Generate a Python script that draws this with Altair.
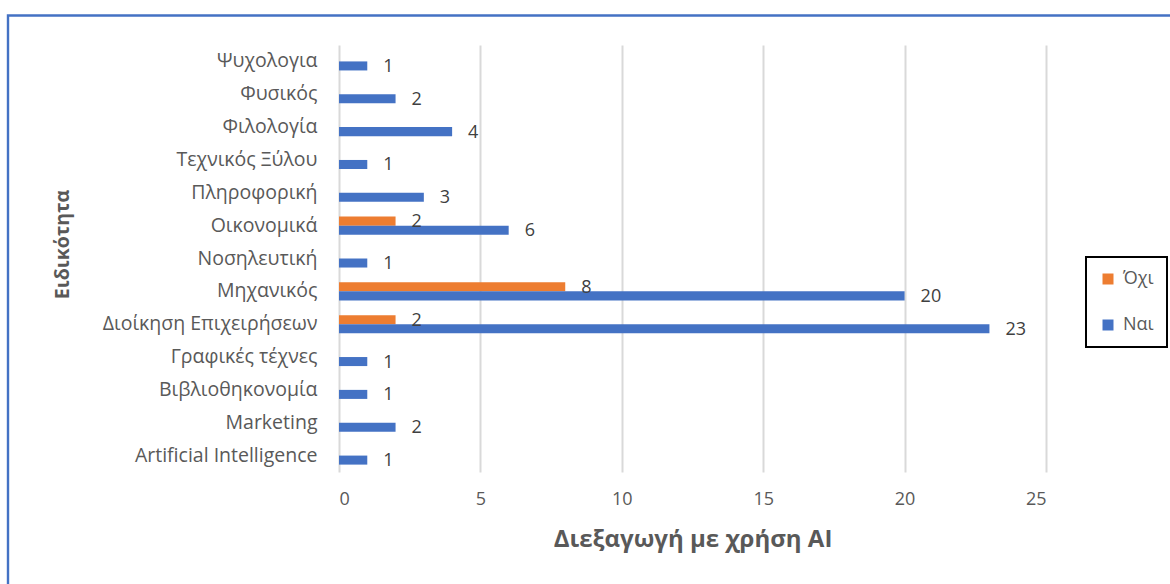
import altair as alt
import pandas as pd

# Specialities, listed top to bottom
categories = [
    "Ψυχολογια", "Φυσικός", "Φιλολογία", "Τεχνικός Ξύλου", "Πληροφορική",
    "Οικονομικά", "Νοσηλευτική", "Μηχανικός", "Διοίκηση Επιχειρήσεων",
    "Γραφικές τέχνες", "Βιβλιοθηκονομία", "Marketing", "Artificial Intelligence",
]
nai = [1, 2, 4, 1, 3, 6, 1, 20, 23, 1, 1, 2, 1]
ochi = [0, 0, 0, 0, 0, 2, 0, 8, 2, 0, 0, 0, 0]
series = ["Όχι", "Ναι"]
colors = ["#ED7D31", "#4472C4"]
x_ticks = [0, 5, 10, 15, 20, 25]

rows = []
for cat, n, o in zip(categories, nai, ochi):
    if o:
        rows.append({"cat": cat, "series": "Όχι", "value": o})
    if n:
        rows.append({"cat": cat, "series": "Ναι", "value": n})
df = pd.DataFrame(rows)

W, H = 707, 427
FONT = "Open Sans"
GREY = "#595959"

y_enc = alt.Y(
    "cat:N",
    sort=categories,
    scale=alt.Scale(paddingInner=0.45, paddingOuter=0.225),
    axis=alt.Axis(
        title="Ειδικότητα",
        titleX=-277,
        titleY=199,
        titleAngle=-90,
        titleAlign="center",
        titleBaseline="middle",
        titleFontSize=19.5,
        ticks=False,
        domain=False,
        labelPadding=22,
        labelLimit=0,
        labelFontSize=19.5,
    ),
)
x_enc = alt.X(
    "value:Q",
    scale=alt.Scale(domain=[0, 25], nice=False),
    axis=alt.Axis(
        values=x_ticks,
        title="Διεξαγωγή με χρήση AI",
        titleFontSize=24,
        grid=True,
        gridColor="#D9D9D9",
        gridWidth=2,
        domain=False,
        ticks=False,
        labelPadding=18,
        labelFontSize=18,
        titlePadding=19,
    ),
)
y_off = alt.YOffset("series:N", sort=series, scale=alt.Scale(domain=series))
color_enc = alt.Color(
    "series:N",
    scale=alt.Scale(domain=series, range=colors),
    legend=alt.Legend(
        title=None,
        orient="none",
        legendX=747,
        legendY=212,
        symbolType="square",
        symbolSize=121,
        symbolStrokeWidth=0,
        labelOffset=6,
        rowPadding=28,
        padding=13,
    ),
)

bars = alt.Chart(df).mark_bar().encode(
    x=x_enc, y=y_enc, yOffset=y_off, color=color_enc
)

labels = alt.Chart(df).mark_text(
    align="left", baseline="middle", dx=16, dy=1, fontSize=18, color="#404040", font=FONT
).encode(
    x=alt.X("value:Q"), y=alt.Y("cat:N", sort=categories), yOffset=y_off, text="value:Q"
)

# Outer frame around the chart area
frame = alt.Chart(pd.DataFrame({"k": [0]})).mark_rect(
    filled=False, stroke="#4472C4", strokeWidth=2.4
).encode(
    x=alt.value(-331), x2=alt.value(W + 300), y=alt.value(-29.5), y2=alt.value(H + 300)
)

chart = (
    alt.layer(frame, bars, labels)
    .properties(
        width=W,
        height=H,
        autosize=alt.AutoSizeParams(type="none"),
        padding={"left": 339, "top": 45, "right": 124, "bottom": 112},
        background="white",
    )
    .configure_view(stroke=None)
    .configure_axis(
        labelFont=FONT,
        labelColor=GREY,
        titleFont=FONT,
        titleFontWeight="bold",
        titleColor=GREY,
    )
    .configure_legend(
        labelFont=FONT,
        labelFontSize=18,
        labelColor=GREY,
        strokeColor="black",
        strokeWidth=2,
    )
)

chart.save("out.html", embed_options={"renderer": "svg", "actions": False})
